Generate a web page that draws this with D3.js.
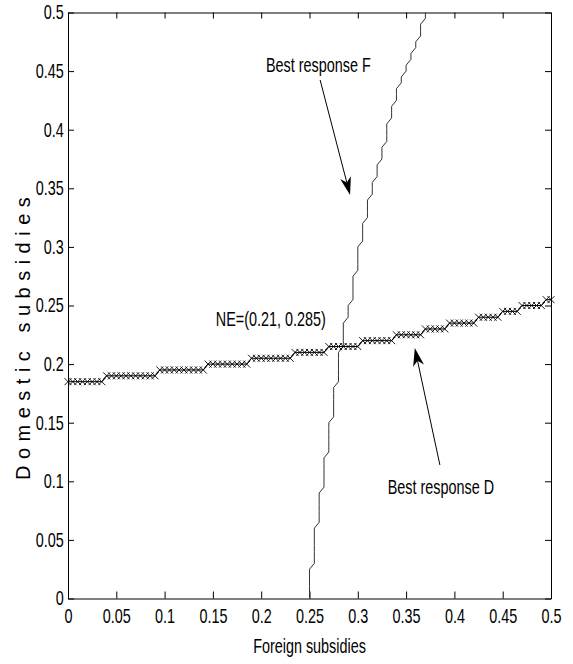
<!DOCTYPE html>
<html>
<head>
<meta charset="utf-8">
<script src="https://cdn.jsdelivr.net/npm/d3@7"></script>
<style>
  body { margin: 0; background: #fff; }
  text { font-family: "Liberation Sans", Arial, sans-serif; }
</style>
</head>
<body>
<div id="my_chart"></div>
<script>
// common grid of subsidy levels (used as x for D, y for F)
var grid = [
  0, 0.005, 0.01, 0.015, 0.02, 0.025, 0.03, 0.035, 0.04, 0.045,
  0.05, 0.055, 0.06, 0.065, 0.07, 0.075, 0.08, 0.085, 0.09, 0.095,
  0.1, 0.105, 0.11, 0.115, 0.12, 0.125, 0.13, 0.135, 0.14, 0.145,
  0.15, 0.155, 0.16, 0.165, 0.17, 0.175, 0.18, 0.185, 0.19, 0.195,
  0.2, 0.205, 0.21, 0.215, 0.22, 0.225, 0.23, 0.235, 0.24, 0.245,
  0.25, 0.255, 0.26, 0.265, 0.27, 0.275, 0.28, 0.285, 0.29, 0.295,
  0.3, 0.305, 0.31, 0.315, 0.32, 0.325, 0.33, 0.335, 0.34, 0.345,
  0.35, 0.355, 0.36, 0.365, 0.37, 0.375, 0.38, 0.385, 0.39, 0.395,
  0.4, 0.405, 0.41, 0.415, 0.42, 0.425, 0.43, 0.435, 0.44, 0.445,
  0.45, 0.455, 0.46, 0.465, 0.47, 0.475, 0.48, 0.485, 0.49, 0.495,
  0.5
];

// best response D : domestic subsidy for each foreign subsidy in grid
var responseD = [
  0.185, 0.185, 0.185, 0.185, 0.185, 0.185, 0.185, 0.185, 0.19, 0.19,
  0.19, 0.19, 0.19, 0.19, 0.19, 0.19, 0.19, 0.19, 0.19, 0.195,
  0.195, 0.195, 0.195, 0.195, 0.195, 0.195, 0.195, 0.195, 0.195, 0.2,
  0.2, 0.2, 0.2, 0.2, 0.2, 0.2, 0.2, 0.2, 0.205, 0.205,
  0.205, 0.205, 0.205, 0.205, 0.205, 0.205, 0.205, 0.21, 0.21, 0.21,
  0.21, 0.21, 0.21, 0.21, 0.215, 0.215, 0.215, 0.215, 0.215, 0.215,
  0.215, 0.22, 0.22, 0.22, 0.22, 0.22, 0.22, 0.22, 0.225, 0.225,
  0.225, 0.225, 0.225, 0.225, 0.23, 0.23, 0.23, 0.23, 0.23, 0.235,
  0.235, 0.235, 0.235, 0.235, 0.235, 0.24, 0.24, 0.24, 0.24, 0.24,
  0.245, 0.245, 0.245, 0.245, 0.25, 0.25, 0.25, 0.25, 0.25, 0.255,
  0.255
];

// best response F : foreign subsidy for each domestic subsidy in grid
var responseF = [
  0.25, 0.25, 0.25, 0.25, 0.25, 0.25, 0.255, 0.255, 0.255, 0.255,
  0.255, 0.255, 0.255, 0.26, 0.26, 0.26, 0.26, 0.26, 0.26, 0.265,
  0.265, 0.265, 0.265, 0.265, 0.265, 0.27, 0.27, 0.27, 0.27, 0.27,
  0.27, 0.275, 0.275, 0.275, 0.275, 0.275, 0.275, 0.28, 0.28, 0.28,
  0.28, 0.28, 0.28, 0.285, 0.285, 0.285, 0.285, 0.285, 0.29, 0.29,
  0.29, 0.295, 0.295, 0.295, 0.295, 0.295, 0.3, 0.3, 0.3, 0.3,
  0.3, 0.305, 0.305, 0.305, 0.305, 0.31, 0.31, 0.31, 0.31, 0.315,
  0.315, 0.315, 0.32, 0.32, 0.32, 0.325, 0.325, 0.325, 0.33, 0.33,
  0.33, 0.33, 0.335, 0.335, 0.335, 0.34, 0.34, 0.34, 0.345, 0.345,
  0.35, 0.35, 0.355, 0.355, 0.36, 0.36, 0.365, 0.365, 0.365, 0.37,
  0.37
];

var tickValues = [0, 0.05, 0.1, 0.15, 0.2, 0.25, 0.3, 0.35, 0.4, 0.45, 0.5];
var tickLabels = ["0", "0.05", "0.1", "0.15", "0.2", "0.25", "0.3", "0.35", "0.4", "0.45", "0.5"];

var margin, width, height, svg, x, y;
// the original figure text is horizontally squeezed
var squeeze = "scale(0.72,1)";

drawChart();

/**
 * Build axes, curves and annotations
 */
function drawChart()
{
  margin = {top: 12.5, right: 22, bottom: 65.5, left: 68};
  width = 573 - margin.left - margin.right;
  height = 664 - margin.top - margin.bottom;

  svg = d3.select("#my_chart")
    .append("svg")
    .attr("width", 573)
    .attr("height", 664)
    .append("g")
    .attr("transform", "translate(" + margin.left + "," + margin.top + ")");

  x = d3.scaleLinear().domain([0, 0.5]).range([0, width]);
  y = d3.scaleLinear().domain([0, 0.5]).range([height, 0]);

  var fmt = function(d, i) { return tickLabels[i]; };

  // bottom axis
  svg.append("g")
    .attr("class", "axis")
    .attr("transform", "translate(0," + height + ")")
    .call(d3.axisBottom(x).tickValues(tickValues).tickFormat(fmt)
      .tickSizeInner(-7).tickSizeOuter(0).tickPadding(10));

  // left axis
  svg.append("g")
    .attr("class", "axis")
    .call(d3.axisLeft(y).tickValues(tickValues).tickFormat(fmt)
      .tickSizeInner(-6).tickSizeOuter(0).tickPadding(6));

  // top and right box with ticks only
  svg.append("g")
    .attr("class", "axis")
    .call(d3.axisTop(x).tickValues(tickValues).tickFormat("")
      .tickSizeInner(-6).tickSizeOuter(0));
  svg.append("g")
    .attr("class", "axis")
    .attr("transform", "translate(" + width + ",0)")
    .call(d3.axisRight(y).tickValues(tickValues).tickFormat("")
      .tickSizeInner(-6).tickSizeOuter(0));

  svg.selectAll(".axis path, .axis line")
    .attr("stroke", "#000")
    .attr("stroke-width", 1);
  svg.selectAll(".axis text")
    .attr("fill", "#000")
    .style("font-family", "'Liberation Sans', Arial, sans-serif")
    .style("font-size", "20px")
    .attr("transform", squeeze);

  // axis titles
  svg.append("text")
    .attr("transform", "translate(" + (width / 2) + "," + (height + 54) + ") " + squeeze)
    .attr("text-anchor", "middle")
    .style("font-size", "20px")
    .text("Foreign subsidies");

  svg.append("text")
    .attr("transform", "translate(-38," + (480 - margin.top) + ") rotate(-90)")
    .attr("text-anchor", "start")
    .style("font-size", "20px")
    .style("letter-spacing", "6.5px")
    .text("Domestic subsidies");

  // best response F (x depends on y)
  var lineF = d3.line()
    .x(function(d, i) { return x(responseF[i]); })
    .y(function(d) { return y(d); });
  svg.append("path")
    .datum(grid)
    .attr("d", lineF)
    .attr("fill", "none")
    .attr("stroke", "#333")
    .attr("stroke-width", 1);

  // best response D with x markers
  var lineD = d3.line()
    .x(function(d) { return x(d); })
    .y(function(d, i) { return y(responseD[i]); });
  svg.append("path")
    .datum(grid)
    .attr("d", lineD)
    .attr("fill", "none")
    .attr("stroke", "#000")
    .attr("stroke-width", 1);

  var s = 3.5;
  svg.selectAll(".marker")
    .data(grid)
    .enter()
    .append("path")
    .attr("class", "marker")
    .attr("d", function(d, i) {
      var cx = x(d), cy = y(responseD[i]);
      return "M" + (cx - s) + "," + (cy - s) + "L" + (cx + s) + "," + (cy + s) +
             "M" + (cx - s) + "," + (cy + s) + "L" + (cx + s) + "," + (cy - s);
    })
    .attr("stroke", "#000")
    .attr("stroke-width", 0.9)
    .attr("fill", "none");

  // annotations
  addLabel(0.205, 0.449, "Best response F");
  addLabel(0.153, 0.2325, "NE=(0.21, 0.285)");
  addLabel(0.331, 0.0892, "Best response D");
  addArrow(0.261, 0.4424, 0.292, 0.3443);
  addArrow(0.385, 0.1139, 0.359, 0.2137);
}

function addLabel(dx, dy, label)
{
  svg.append("text")
    .attr("transform", "translate(" + x(dx) + "," + y(dy) + ") " + squeeze)
    .style("font-size", "20px")
    .attr("fill", "#000")
    .text(label);
}

/**
 * Arrow with a filled head, given tail and tip in data units
 */
function addArrow(x1, y1, x2, y2)
{
  var ax = x(x1), ay = y(y1), bx = x(x2), by = y(y2);
  var len = Math.sqrt((bx - ax) * (bx - ax) + (by - ay) * (by - ay));
  var ux = (bx - ax) / len, uy = (by - ay) / len;
  var headLen = 18, headW = 5.5, notch = 13;

  svg.append("line")
    .attr("x1", ax).attr("y1", ay)
    .attr("x2", bx - ux * notch).attr("y2", by - uy * notch)
    .attr("stroke", "#000")
    .attr("stroke-width", 1);

  var baseX = bx - ux * headLen, baseY = by - uy * headLen;
  var p = [
    [bx, by],
    [baseX - uy * headW, baseY + ux * headW],
    [bx - ux * notch, by - uy * notch],
    [baseX + uy * headW, baseY - ux * headW]
  ];
  svg.append("path")
    .attr("d", "M" + p.map(function(q) { return q[0] + "," + q[1]; }).join("L") + "Z")
    .attr("fill", "#000");
}
</script>
</body>
</html>
